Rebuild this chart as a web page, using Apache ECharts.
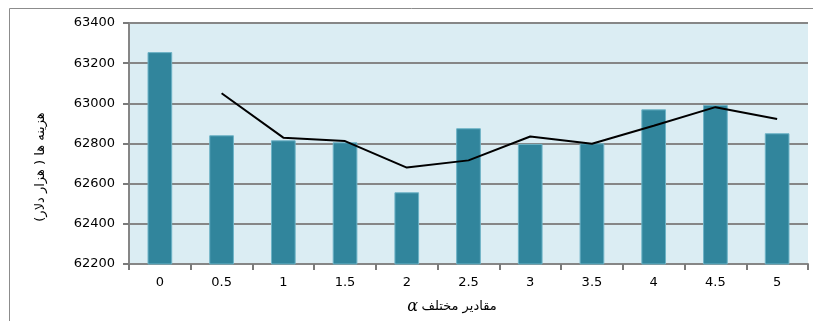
<!DOCTYPE html>
<html>
<head>
<meta charset="utf-8">
<script src="https://cdn.jsdelivr.net/npm/echarts@6/dist/echarts.min.js"></script>
<style>
html, body { margin: 0; padding: 0; background: #fff; }
#chart { width: 813px; height: 321px; }
</style>
</head>
<body>
<div id="chart"></div>
<script>
// alpha values on the x axis
var alphas = ['0', '0.5', '1', '1.5', '2', '2.5', '3', '3.5', '4', '4.5', '5'];
// costs (thousand dollars)
var costs = [63255, 62841, 62816, 62806, 62557, 62876, 62798, 62801, 62970, 62992, 62851];
// black trend line (no point at 0)
var trend = [null, 63050, 62829, 62812, 62680, 62716, 62835, 62799, 62888, 62981, 62922];

var chart = echarts.init(document.getElementById('chart'));

var option = {
	animation: false,
	backgroundColor: '#fff',
	grid: { left: 129, right: 5, top: 23, bottom: 57, show: true, backgroundColor: '#dbedf3', borderWidth: 0 },
	xAxis: {
		type: 'category',
		data: alphas,
		axisLine: { show: true, lineStyle: { color: '#868686', width: 2 } },
		axisTick: { show: true, length: 6, lineStyle: { color: '#7a7a7a', width: 2 } },
		axisLabel: { color: '#000', fontFamily: 'DejaVu Sans', fontSize: 13, margin: 12 }
	},
	yAxis: {
		type: 'value',
		min: 62200,
		max: 63400,
		interval: 200,
		axisLine: { show: true, lineStyle: { color: '#868686', width: 2 } },
		axisTick: { show: true, length: 6, lineStyle: { color: '#7a7a7a', width: 2 } },
		axisLabel: { color: '#000', fontFamily: 'DejaVu Sans', fontSize: 13, margin: 14, formatter: function (v) { return String(v); } },
		splitLine: { lineStyle: { color: '#868686', width: 2 } }
	},
	series: [
		{
			type: 'bar',
			data: costs,
			barWidth: '40%',
			itemStyle: { color: '#31859c', borderColor: '#6db3c6', borderWidth: 1 }
		},
		{
			type: 'line',
			data: trend,
			symbol: 'none',
			lineStyle: { color: '#000', width: 2 },
			z: 5
		}
	],
	graphic: [
		{
			type: 'rect',
			shape: { x: 9.5, y: 8.5, width: 810, height: 330 },
			style: { fill: 'transparent', stroke: '#8c8c8c', lineWidth: 1 },
			silent: true,
			z: -10
		},
		{
			type: 'text',
			x: 41,
			y: 167,
			rotation: Math.PI / 2,
			style: {
				text: 'هزینه ها ( هزار دلار)\u200F',
				fontFamily: 'DejaVu Sans',
				fontSize: 13,
				fill: '#000',
				align: 'center',
				verticalAlign: 'middle'
			}
		},
		{
			type: 'text',
			x: 452,
			y: 307,
			style: {
				text: '{a|α} {t|مقادیر مختلف}',
				align: 'center',
				verticalAlign: 'middle',
				rich: {
					a: { fontFamily: 'DejaVu Serif', fontStyle: 'italic', fontSize: 16, fill: '#000' },
					t: { fontFamily: 'DejaVu Sans', fontSize: 13, fill: '#000' }
				}
			}
		}
	]
};

chart.setOption(option);
</script>
</body>
</html>
